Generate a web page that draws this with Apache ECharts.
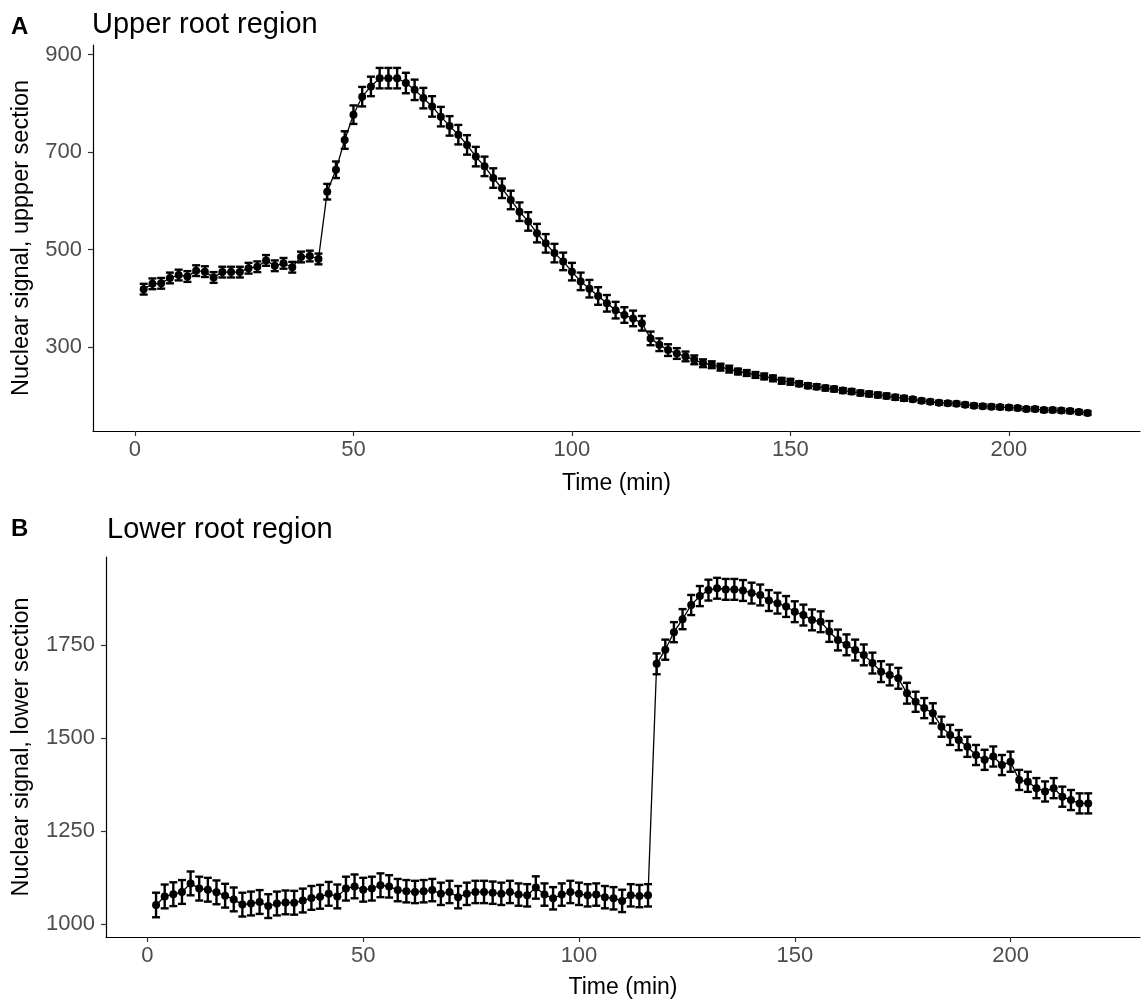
<!DOCTYPE html>
<html>
<head>
<meta charset="utf-8">
<script src="https://cdn.jsdelivr.net/npm/echarts@6/dist/echarts.min.js"></script>
<style>
html,body{margin:0;padding:0;background:#fff;}
#chart{width:1141px;height:1001px;}
</style>
</head>
<body>
<div id="chart"></div>
<script>
// ---- data ----
const timeMin = [2,4,6,8,10,12,14,16,18,20,22,24,26,28,30,32,34,36,38,40,42,44,46,48,50,52,54,56,58,60,62,64,66,68,70,72,74,76,78,80,82,84,86,88,90,92,94,96,98,100,102,104,106,108,110,112,114,116,118,120,122,124,126,128,130,132,134,136,138,140,142,144,146,148,150,152,154,156,158,160,162,164,166,168,170,172,174,176,178,180,182,184,186,188,190,192,194,196,198,200,202,204,206,208,210,212,214,216,218];

const upperSignal = [
  419,430,431,442,448,445,457,455,443,454,454,454,462,465,478,467,472,464,485,487,481,
  619,664,725,777,814,835,852,852,852,842,828,811,794,773,754,736,715,691,671,647,626,602,578,558,534,513,493,476,455,435,420,
  405,390,376,366,359,349,318,305,294,287,281,274,267,264,259,255,250,247,243,240,
  236,231,229,225,221,219,216,214,211,209,206,204,202,200,197,195,193,190,188,186,
  185,184,182,180,179,178,177,176,175,173,173,171,171,170,169,167,165
];
const upperError = [
  11,11,11,11,11,11,11,11,11,11,11,11,11,11,11,11,11,11,11,11,11,
  16,17,18,19,20,20,21,21,21,21,21,21,21,20,20,20,20,20,20,20,20,19,19,19,19,19,19,18,18,18,18,
  18,17,17,16,16,15,14,13,12,11,10,9,8,7,7,7,6,6,6,6,
  6,6,6,5,5,5,5,5,5,5,5,5,5,5,5,5,4,4,4,4,
  4,4,4,4,4,4,4,4,4,4,4,4,4,4,4,4,4
];

const lowerSignal = [
  1052,1075,1081,1087,1110,1096,1093,1086,1077,1067,1053,1056,1060,1049,1056,1059,1058,1064,1071,1074,1082,1075,1096,1102,1093,1096,1105,
  1102,1092,1089,1087,1089,1092,1082,1087,1073,1082,1087,1087,1085,1082,1087,1080,1078,1099,1080,1070,1080,1087,1082,1078,1080,1073,1070,1063,1078,1076,1078,
  1700,1738,1785,1820,1858,1882,1898,1903,1900,1900,
  1897,1890,1885,1870,1863,1854,1840,1831,1818,1813,
  1787,1764,1751,1737,1724,1702,1679,1670,1661,1621,
  1598,1581,1567,1531,1509,1495,1477,1455,1442,1451,
  1428,1437,1388,1383,1366,1357,1366,1343,1334,1325,1325
];
const lowerError = [
  33,32,32,32,32,32,32,32,32,32,32,32,32,32,32,32,32,32,32,32,32,32,32,32,32,32,32,
  30,30,30,30,30,30,30,30,30,30,30,30,30,30,30,30,30,30,30,30,30,30,30,30,30,30,30,30,30,30,30,
  28,27,27,27,27,27,28,28,28,28,
  28,28,28,28,28,28,28,28,28,28,
  28,28,28,28,28,28,28,28,28,28,
  27,27,27,27,27,27,27,27,27,27,
  27,27,27,27,27,27,27,27,27,27,27
];

const xTicks = [0, 50, 100, 150, 200];
const upperTicks = [300, 500, 700, 900];
const lowerTicks = [1000, 1250, 1500, 1750];

// ---- chart ----
const FONT = 'Liberation Sans, Arial, sans-serif';
const TICK_COLOR = '#4d4d4d';

function linePairs(vals) { return timeMin.map((t, i) => [t, vals[i]]); }
function errRows(vals, errs) { return timeMin.map((t, i) => [t, vals[i] - errs[i], vals[i] + errs[i]]); }

function renderErr(params, api) {
  const x = api.value(0);
  const top = api.coord([x, api.value(2)]);
  const bot = api.coord([x, api.value(1)]);
  const hw = 4;
  const style = { stroke: '#000', lineWidth: 2.4 };
  return {
    type: 'group',
    children: [
      { type: 'line', shape: { x1: top[0], y1: top[1], x2: bot[0], y2: bot[1] }, style },
      { type: 'line', shape: { x1: top[0] - hw, y1: top[1], x2: top[0] + hw, y2: top[1] }, style },
      { type: 'line', shape: { x1: bot[0] - hw, y1: bot[1], x2: bot[0] + hw, y2: bot[1] }, style }
    ]
  };
}

function xAxisCfg(gridIndex, nameGap) {
  return {
    type: 'value', gridIndex, min: -9.6, max: 230,
    name: 'Time (min)', nameLocation: 'middle', nameGap,
    nameTextStyle: { fontSize: 23, color: '#000', fontFamily: FONT },
    axisLine: { show: true, onZero: false, lineStyle: { color: '#000', width: 1.2 } },
    axisTick: { show: true, length: 5, lineStyle: { color: '#333', width: 1.2 }, customValues: xTicks },
    axisLabel: { fontSize: 22, color: TICK_COLOR, fontFamily: FONT, margin: 8, customValues: xTicks,
                 formatter: v => String(v) },
    splitLine: { show: false }
  };
}
function yAxisCfg(gridIndex, min, max, ticks, name, nameGap) {
  return {
    type: 'value', gridIndex, min, max,
    name, nameLocation: 'middle', nameGap,
    nameTextStyle: { fontSize: 23.5, color: '#000', fontFamily: FONT },
    axisLine: { show: true, onZero: false, lineStyle: { color: '#000', width: 1.2 } },
    axisTick: { show: true, length: 5, lineStyle: { color: '#333', width: 1.2 }, customValues: ticks },
    axisLabel: { fontSize: 22, color: TICK_COLOR, fontFamily: FONT, margin: 11, customValues: ticks,
                 formatter: v => String(v) },
    splitLine: { show: false }
  };
}

const chart = echarts.init(document.getElementById('chart'), null, { renderer: 'canvas' });
chart.setOption({
  animation: false,
  backgroundColor: '#fff',
  title: [
    { text: 'A', left: 11, top: 15, padding: 0, textStyle: { fontSize: 24, fontWeight: 'bold', color: '#000', fontFamily: FONT } },
    { text: 'Upper root region', left: 92, top: 10, padding: 0, textStyle: { fontSize: 29, fontWeight: 'normal', color: '#000', fontFamily: FONT } },
    { text: 'B', left: 11, top: 517, padding: 0, textStyle: { fontSize: 24, fontWeight: 'bold', color: '#000', fontFamily: FONT } },
    { text: 'Lower root region', left: 107, top: 515, padding: 0, textStyle: { fontSize: 29, fontWeight: 'normal', color: '#000', fontFamily: FONT } }
  ],
  grid: [
    { left: 93, right: 1, top: 45, height: 386 },
    { left: 106, right: 1, top: 557, height: 380 }
  ],
  xAxis: [xAxisCfg(0, 41), xAxisCfg(1, 39)],
  yAxis: [
    yAxisCfg(0, 128, 920, upperTicks, 'Nuclear signal, uppper section', 59),
    yAxisCfg(1, 966, 1987, lowerTicks, 'Nuclear signal, lower section', 72)
  ],
  series: [
    { type: 'line', xAxisIndex: 0, yAxisIndex: 0, data: linePairs(upperSignal),
      symbol: 'circle', symbolSize: 8, itemStyle: { color: '#000' }, lineStyle: { color: '#000', width: 1.3 }, z: 2 },
    { type: 'custom', xAxisIndex: 0, yAxisIndex: 0, renderItem: renderErr, data: errRows(upperSignal, upperError),
      encode: { x: 0, y: [1, 2] }, z: 3 },
    { type: 'line', xAxisIndex: 1, yAxisIndex: 1, data: linePairs(lowerSignal),
      symbol: 'circle', symbolSize: 8, itemStyle: { color: '#000' }, lineStyle: { color: '#000', width: 1.3 }, z: 2 },
    { type: 'custom', xAxisIndex: 1, yAxisIndex: 1, renderItem: renderErr, data: errRows(lowerSignal, lowerError),
      encode: { x: 0, y: [1, 2] }, z: 3 }
  ]
});
</script>
</body>
</html>
